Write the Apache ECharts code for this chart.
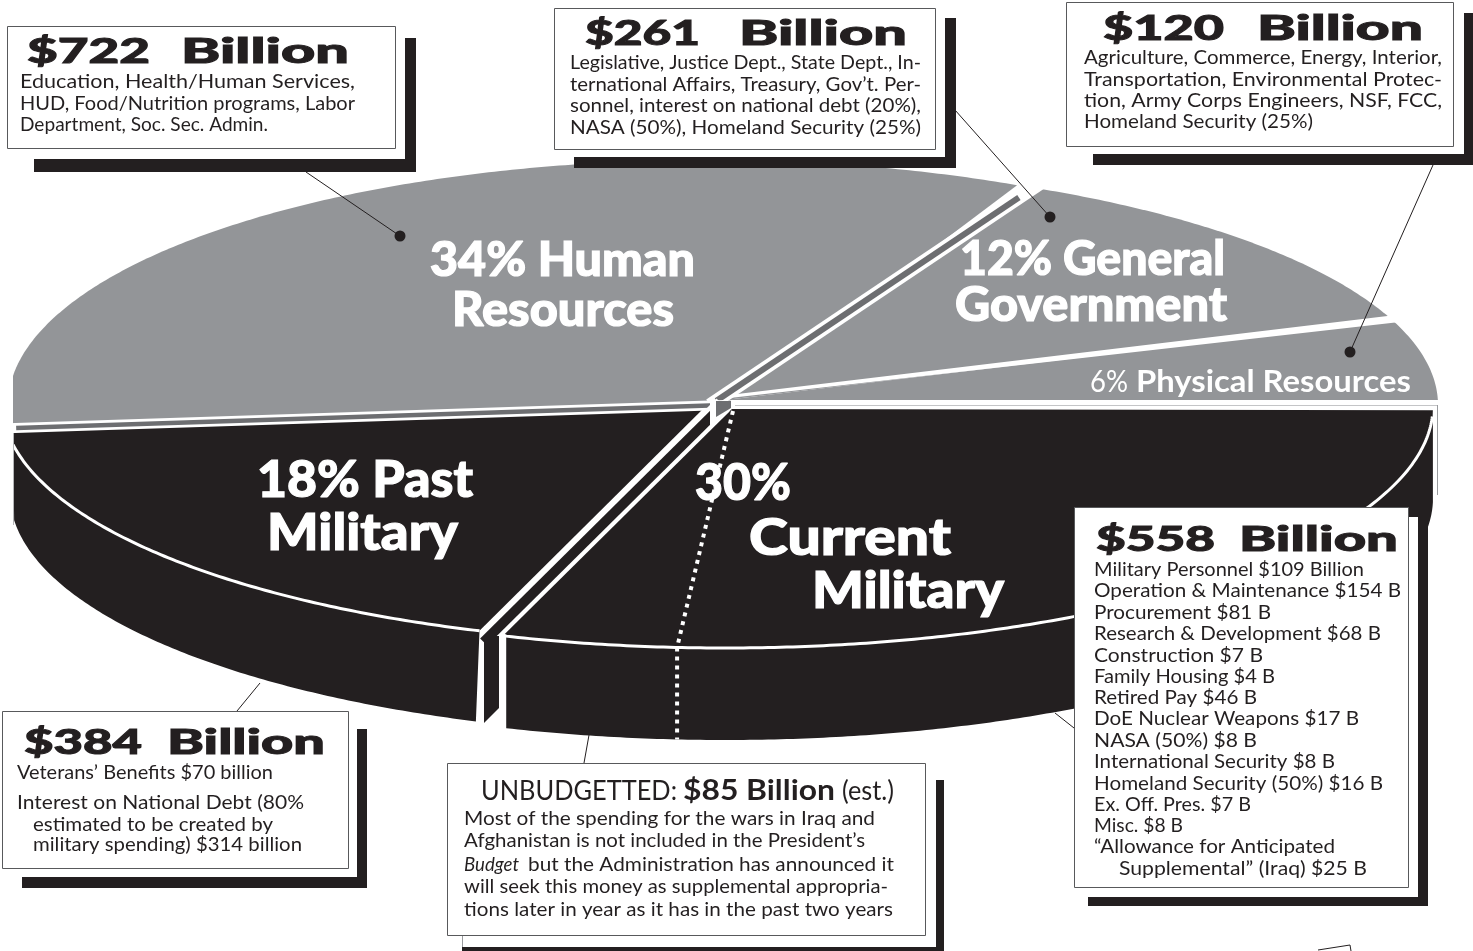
<!DOCTYPE html>
<html>
<head>
<meta charset="utf-8">
<title>Federal budget pie</title>
<style>
  html, body { margin: 0; padding: 0; background: #fff; }
  #chart { width: 1473px; height: 951px; }
</style>
<script src="https://cdn.jsdelivr.net/npm/echarts@6/dist/echarts.min.js"></script>
</head>
<body>
<div id="chart"></div>
<script>
// budget shares in percent, counter-clockwise from the right edge of the pie
const shareNames = ['Physical Resources', 'General Government', 'Human Resources', 'Past Military', 'Current Military'];
const shareValues = [6, 12, 34, 18, 30];
// part of the current military slice that is unbudgeted (dotted line)
const unbudgetedPart = 0.14;

const humanTitle = ['$722', 'Billion'];
const humanLines = ['Education, Health/Human Services,', 'HUD, Food/Nutrition programs, Labor', 'Department, Soc. Sec. Admin.'];
const generalTitle = ['$261', 'Billion'];
const generalLines = ['Legislative, Justice Dept., State Dept., In-', 'ternational Affairs, Treasury, Gov\u2019t. Per-', 'sonnel, interest on national debt (20%),', 'NASA (50%), Homeland Security (25%)'];
const physicalTitle = ['$120', 'Billion'];
const physicalLines = ['Agriculture, Commerce, Energy, Interior,', 'Transportation, Environmental Protec-', 'tion, Army Corps Engineers, NSF, FCC,', 'Homeland Security (25%)'];
const pastTitle = ['$384', 'Billion'];
const pastLines = ['Veterans\u2019 Benefits $70 billion', 'Interest on National Debt (80%', 'estimated to be created by', 'military spending) $314 billion'];
const currentTitle = ['$558', 'Billion'];
const currentLines = ['Military Personnel $109 Billion', 'Operation & Maintenance $154 B', 'Procurement $81 B', 'Research & Development $68 B', 'Construction $7 B', 'Family Housing $4 B', 'Retired Pay $46 B', 'DoE Nuclear Weapons $17 B', 'NASA (50%) $8 B', 'International Security $8 B', 'Homeland Security (50%) $16 B', 'Ex. Off. Pres. $7 B', 'Misc. $8 B', '\u201cAllowance for Anticipated', 'Supplemental\u201d (Iraq) $25 B'];
const unbudgetedLines = ['Most of the spending for the wars in Iraq and', 'Afghanistan is not included in the President\u2019s', 'but the Administration has announced it', 'will seek this money as supplemental appropria-', 'tions later in year as it has in the past two years'];

const BLACK = '#231f20', GRAY = '#939598', DARK = '#6d6e71', WHITE = '#ffffff', EDGE = '#58595b';
const START_ANGLE = -1;
const DEPTH = 92;
const FACE = 'Lato';

// where each slice starts and ends
const bounds = [START_ANGLE];
shareValues.forEach(function (v, i) { bounds.push(bounds[i] + v * 3.6); });

// ellipses of the pie top, the slices are not quite on one centre
const C = { x: 725, y: 405, a: 713, b: 241 };
const humanE = { x: 708, y: 405, a: 700, b: 245 };
const pastE = { x: 710, y: 402, a: 708, b: 242 };
const pastBottomE = { x: 718, y: 402, a: 708, b: 242 };
const currE = { x: 725, y: 406, a: 708, b: 242 };

function onEllipse(e, deg, dy) {
  const r = deg * Math.PI / 180;
  return [e.x + e.a * Math.cos(r), e.y - e.b * Math.sin(r) + (dy || 0)];
}
function arc(e, from, to, dy) {
  const pts = [];
  const n = Math.ceil(Math.abs(to - from) * 2);
  for (let i = 0; i <= n; i++) pts.push(onEllipse(e, from + (to - from) * i / n, dy));
  return pts;
}
function poly(points, fill) {
  return { type: 'polygon', shape: { points: points }, style: { fill: fill }, silent: true };
}
function line(points, color, width, dash) {
  return { type: 'polyline', shape: { points: points }, silent: true, style: { stroke: color, lineWidth: width, fill: null, lineDash: dash || null } };
}
function clampXY(points, x0, x1, y0, y1) {
  return points.map(function (p) {
    return [Math.min(x1, Math.max(x0, p[0])), Math.min(y1, Math.max(y0, p[1]))];
  });
}
// band between two slices, from p to q with a width at each end
function band(p, q, t0, t1, w0, w1, fill) {
  const dx = q[0] - p[0], dy = q[1] - p[1], len = Math.sqrt(dx * dx + dy * dy);
  const nx = -dy / len, ny = dx / len;
  const a = [p[0] + dx * t0, p[1] + dy * t0], b = [p[0] + dx * t1, p[1] + dy * t1];
  return poly([
    [a[0] + nx * w0 / 2, a[1] + ny * w0 / 2], [b[0] + nx * w1 / 2, b[1] + ny * w1 / 2],
    [b[0] - nx * w1 / 2, b[1] - ny * w1 / 2], [a[0] - nx * w0 / 2, a[1] - ny * w0 / 2]
  ], fill);
}

function renderTop(params) {
  const i = params.dataIndex, from = bounds[i], to = bounds[i + 1];
  if (i < 2) {
    const pts = [[C.x, C.y]].concat(arc(C, from, to));
    return poly(clampXY(pts, 0, 1473, 0, 400), GRAY);
  }
  if (i === 2) {
    const pts = [[C.x, C.y]].concat(arc(humanE, from, to));
    return poly(clampXY(pts, 13, 1473, 0, 951), GRAY);
  }
  const e = i === 3 ? pastE : currE;
  const pts = [[e.x, e.y]].concat(arc(e, from, to));
  return poly(clampXY(pts, 13, 1473, i === 3 ? 0 : 409, 951), BLACK);
}

function renderBand(params) {
  const i = params.dataIndex;
  const rim = onEllipse(C, bounds[i + 1]);
  if (i === 0) { // physical / general
    return band([725, 397], [rim[0], rim[1] - 1], 0, 1.04, 3, 7.5, WHITE);
  }
  if (i === 1) { // general / human
    const p = [710, 405], q = [rim[0] - 8, rim[1]];
    return { type: 'group', children: [band(p, q, 0, 1.06, 13.5, 13.5, WHITE), band(p, q, 0.02, 0.96, 6, 6, DARK)] };
  }
  if (i === 2) { // human / past
    const p = [725, 405], q = [rim[0], rim[1] - 3];
    return { type: 'group', children: [band(p, q, 0, 1.05, 10, 10, WHITE), band(p, q, 0, 1, 4.5, 4.5, DARK)] };
  }
  // past / current
  const p = [723, 405];
  return { type: 'group', children: [
    band(p, rim, 0, 1.12, 18.4, 18.4, WHITE),
    band(p, rim, 0, 1.04, 10, 10, BLACK),
    poly([[710, 403], [733, 400], [733, 408], [716, 424], [710, 428]], WHITE),
    poly([[716, 401], [731, 401], [731, 408], [716, 417]], DARK)
  ] };
}

function renderWall(params) {
  const i = params.dataIndex, from = bounds[i + 3], to = bounds[i + 4];
  const e = i === 0 ? pastE : currE;
  const x0 = i === 0 ? 13 : 503, x1 = i === 0 ? 481 : 1473;
  const inside = function (p) { return p[0] >= x0 && p[0] <= x1; };
  const top = arc(e, from, to).filter(inside);
  const bottom = arc(i === 0 ? pastBottomE : e, from, to, DEPTH).filter(inside);
  const children = [poly(top.concat(bottom.slice().reverse()), BLACK)];
  if (i === 0) {
    children.push(poly([[484, 636], [499, 636], [499, 708], [484, 723]], BLACK));
    children.push(line(top, WHITE, 3));
  } else {
    const rimLine = top.filter(function (p) { return p[1] >= 416; });
    children.push(line([[501, 634]].concat(rimLine), WHITE, 3));
    // dotted split of the current military slice
    const split = onEllipse(e, from + (to - from) * unbudgetedPart);
    children.push(line([[733, 411], split, [split[0], split[1] + DEPTH]], WHITE, 4, [4, 5]));
  }
  return { type: 'group', children: children };
}

// -------- annotation layer -----------
const measure = document.createElement('canvas').getContext('2d');
measure.textBaseline = 'middle';

function text(str, font, x, right, baseline, fill, thicken) {
  measure.font = font;
  const k = right ? (right - x) / measure.measureText(str).width : 1;
  const y = baseline - measure.measureText('H').actualBoundingBoxDescent;
  const color = fill || BLACK;
  return { type: 'text', x: x, y: y, scaleX: k, silent: true, z: 10,
    style: { text: str, font: font, fill: color, stroke: thicken ? color : null, lineWidth: thicken || 0, textAlign: 'left', verticalAlign: 'middle' } };
}
function rect(x0, y0, x1, y1, fill, stroke) {
  return { type: 'rect', silent: true, z: 10, shape: { x: x0, y: y0, width: x1 - x0, height: y1 - y0 },
    style: { fill: fill, stroke: stroke || null, lineWidth: stroke ? 1 : 0 } };
}
function leader(x0, y0, x1, y1, dot) {
  const out = [{ type: 'line', silent: true, z: 10, shape: { x1: x0, y1: y0, x2: x1, y2: y1 }, style: { stroke: BLACK, lineWidth: 1 } }];
  if (dot) out.push({ type: 'circle', silent: true, z: 10, shape: { cx: x1, cy: y1, r: 5.5 }, style: { fill: BLACK } });
  return out;
}
function box(x0, y0, x1, y1, barV, barH, backing) {
  const out = [];
  if (backing) out.push(rect(backing[0], backing[1], backing[2], backing[3], WHITE));
  out.push(rect(barV[0], barV[1], barV[2], barV[3], BLACK));
  out.push(rect(barH[0], barH[1], barH[2], barH[3], BLACK));
  out.push(rect(x0 + 0.5, y0 + 0.5, x1 - 0.5, y1 - 0.5, WHITE, EDGE));
  return out;
}
function block(title, xs, tBase, lines, spots) {
  const out = [
    text(title[0], '900 35px ' + FACE, xs[0], xs[1], tBase, BLACK, 1),
    text(title[1], '900 35px ' + FACE, xs[2], xs[3], tBase, BLACK, 1)
  ];
  lines.forEach(function (s, i) {
    out.push(text(s, '400 19px ' + FACE, spots[i][0], spots[i][1], spots[i][2]));
  });
  return out;
}
function sliceLabel(str, size, x, right, baseline) {
  return text(str, '900 ' + size + 'px ' + FACE, x, right, baseline, WHITE, 1.2);
}

const elements = [].concat(
  rect(1437, 405, 1438, 495, '#999b9e'),
  rect(735, 405, 1437, 406, '#c4c5c7'),
  rect(13, 433, 14, 525, '#b5b6b8'),

  // slice labels
  sliceLabel('34% Human', 47, 430, 695, 276),
  sliceLabel('Resources', 47, 452, 674, 326),
  sliceLabel('12% General', 47, 960, 1225, 275),
  sliceLabel('Government', 47, 955, 1227, 321),
  text('6%', '400 30px ' + FACE, 1090, 1128, 392, WHITE),
  text('Physical Resources', '700 30px ' + FACE, 1136, 1411, 392, WHITE),
  sliceLabel('18% Past', 52, 257, 473, 497),
  sliceLabel('Military', 52, 267, 458, 550),
  sliceLabel('30%', 52, 695, 791, 500),
  sliceLabel('Current', 52, 749, 951, 555),
  sliceLabel('Military', 52, 812, 1004, 608),

  leader(306, 172, 400, 236, true),
  leader(955, 110, 1050, 217, true),
  leader(1433, 165, 1350, 352, true),
  leader(260, 683, 237, 711),
  leader(589, 735, 584, 763),
  leader(1055, 713, 1074, 728),

  // human resources box
  box(7, 26, 396, 149, [405, 38, 416, 172], [34, 159, 416, 172]),
  block(humanTitle, [27, 150, 181, 349], 63, humanLines, [[20, 355, 88], [20, 355, 110], [20, 268, 131]]),

  // general government box
  box(554, 8, 936, 150, [945, 18, 956, 168], [574, 157, 956, 168]),
  block(generalTitle, [585, 700, 739, 907], 45, generalLines, [[570, 921, 69], [570, 921, 91], [570, 921, 112], [570, 921, 134]]),

  // physical resources box
  box(1066, 2, 1454, 147, [1464, 13, 1473, 165], [1093, 154, 1473, 165]),
  block(physicalTitle, [1103, 1224, 1257, 1423], 40, physicalLines, [[1084, 1442, 64], [1084, 1442, 86], [1084, 1442, 107], [1084, 1313, 128]]),

  // past military box
  box(2, 711, 349, 869, [357, 729, 367, 888], [22, 877, 367, 888]),
  block(pastTitle, [24, 142, 167, 325], 754, pastLines, [[17, 273, 779], [17, 304, 809], [33, 273, 831], [33, 302, 851]]),

  // unbudgeted box
  rect(462, 936, 463, 947, '#999b9e'),
  box(447, 763, 926, 936, [936, 780, 944, 951], [462, 947, 944, 951]),
  text('UNBUDGETTED:', '400 26px ' + FACE, 481, 677, 800),
  text('$85 Billion', '700 28px ' + FACE, 683, 835, 800),
  text('(est.)', '400 26px ' + FACE, 842, 894, 800),
  text(unbudgetedLines[0], '400 19px ' + FACE, 464, 875, 825),
  text(unbudgetedLines[1], '400 19px ' + FACE, 464, 865, 847),
  text('Budget', 'italic 400 19px ' + FACE, 464, 519, 871),
  text(unbudgetedLines[2], '400 19px ' + FACE, 528, 894, 871),
  text(unbudgetedLines[3], '400 19px ' + FACE, 464, 888, 893),
  text(unbudgetedLines[4], '400 19px ' + FACE, 464, 893, 916),

  // current military box
  box(1074, 507, 1409, 888, [1418, 517, 1428, 906], [1088, 897, 1428, 906], [1074, 517, 1418, 897]),
  block(currentTitle, [1096, 1215, 1239, 1398], 551, currentLines, [
    [1094, 1364, 576], [1094, 1401, 597], [1094, 1271, 619], [1094, 1381, 640], [1094, 1263, 662],
    [1094, 1275, 683], [1094, 1257, 704], [1094, 1359, 725], [1094, 1257, 747], [1094, 1335, 768],
    [1094, 1383, 790], [1094, 1251, 811], [1094, 1183, 832], [1094, 1335, 853], [1119, 1367, 875]
  ]),

  // cut-off shape at the bottom edge
  { type: 'polyline', silent: true, z: 10, shape: { points: [[1318, 950], [1350, 945], [1351, 951]] }, style: { stroke: BLACK, lineWidth: 1, fill: null } }
);

const myChart = echarts.init(document.getElementById('chart'), null, { renderer: 'canvas' });
myChart.setOption({
  animation: false,
  backgroundColor: '#ffffff',
  tooltip: { show: false },
  series: [
    { type: 'custom', name: 'tops', coordinateSystem: 'none', z: 2, silent: true, data: shareValues, renderItem: renderTop },
    { type: 'custom', name: 'bands', coordinateSystem: 'none', z: 3, silent: true, data: shareValues.slice(0, 4), renderItem: renderBand },
    { type: 'custom', name: 'walls', coordinateSystem: 'none', z: 4, silent: true, data: shareValues.slice(3), renderItem: renderWall }
  ],
  graphic: { elements: elements }
});
</script>
</body>
</html>
